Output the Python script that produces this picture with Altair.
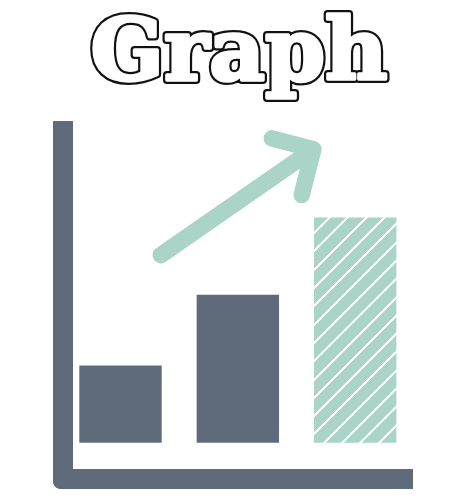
import numpy as np
import pandas as pd
import altair as alt

# bars of the icon: position index, height, fill style
bar_pos = [0, 1, 2]
bar_value = [2.4, 4.6, 7.0]
bar_kind = ["solid", "solid", "hatched"]

# trend arrow, in bar-index / value units
arrow_part = ["shaft", "shaft", "head", "head", "head"]
arrow_seq = [0, 1, 0, 1, 2]
arrow_x = [0.343, 1.643, 1.289, 1.643, 1.544]
arrow_y = [5.83, 9.12, 9.46, 9.12, 7.70]

title_text = ["Graph"]

SLATE = "#5f6b7a"
MINT = "#a9d4c7"

W, H = 446, 486
X_RANGE = [112.5, 347.2]   # pixels for bar index 0 and 2
Y_RANGE = [434.7, 113.0]   # pixels for value 0 and 10
HALF = 0.351               # half bar width, in index units

xs = alt.Scale(domain=[0, 2], range=X_RANGE, nice=False, zero=False)
ys = alt.Scale(domain=[0, 10], range=Y_RANGE, nice=False, zero=False)

# diagonal hatch built as a hard-stop linear gradient
px_x = (X_RANGE[1] - X_RANGE[0]) / 2
px_y = (Y_RANGE[0] - Y_RANGE[1]) / 10
bw = 2 * HALF * px_x
bh = bar_value[2] * px_y
k = (1 / bh + 1 / bw) / (1 / bh ** 2 + 1 / bw ** 2)
period, line_w, phase = 18.3, 3.0, 15.6
span = bw + bh

stops = [alt.GradientStop(offset=0, color=MINT)]
for c in np.arange(phase % period - period, span + period, period):
    a = (c - line_w / 2) / span
    b = (c + line_w / 2) / span
    if b <= 0 or a >= 1:
        continue
    a, b = float(round(max(a, 0), 5)), float(round(min(b, 1), 5))
    stops += [alt.GradientStop(offset=a, color=MINT),
              alt.GradientStop(offset=a, color="white"),
              alt.GradientStop(offset=b, color="white"),
              alt.GradientStop(offset=b, color=MINT)]
stops.append(alt.GradientStop(offset=1, color=MINT))
hatch = alt.LinearGradient(gradient="linear", stops=stops,
                           x1=0, y1=0, x2=float(k / bh), y2=float(k / bw))

df_bars = pd.DataFrame({"pos": bar_pos, "value": bar_value, "kind": bar_kind})
df_arrow = pd.DataFrame({"part": arrow_part, "seq": arrow_seq,
                         "x": arrow_x, "y": arrow_y})
one = pd.DataFrame({"a": [0]})

# L shaped axis frame
frame_y = alt.Chart(one).mark_rect(color=SLATE, cornerRadiusBottomLeft=8).encode(
    x=alt.value(45), x2=alt.value(65), y=alt.value(113), y2=alt.value(481))
frame_x = alt.Chart(one).mark_rect(color=SLATE, cornerRadiusBottomLeft=8).encode(
    x=alt.value(45), x2=alt.value(405), y=alt.value(461), y2=alt.value(481))

base = alt.Chart(df_bars).transform_calculate(
    x0=f"datum.pos - {HALF}", x1=f"datum.pos + {HALF}", base="0")
enc = dict(
    x=alt.X("x0:Q", scale=xs, axis=None), x2="x1:Q",
    y=alt.Y("value:Q", scale=ys, axis=None), y2="base:Q")
solid = base.transform_filter("datum.kind == 'solid'").mark_bar(color=SLATE).encode(**enc)
hatched = base.transform_filter("datum.kind == 'hatched'").mark_bar(color=hatch).encode(**enc)

arrow = alt.Chart(df_arrow).mark_line(
    color=MINT, strokeWidth=16.5, strokeCap="round", strokeJoin="round"
).encode(
    x=alt.X("x:Q", scale=xs, axis=None),
    y=alt.Y("y:Q", scale=ys, axis=None),
    detail="part:N", order="seq:Q")

# heavy outlined title: a fat black stroke under a white stroke
title_font = dict(font="DejaVu Serif", fontWeight="bold", fontSize=86,
                  align="center", baseline="alphabetic", strokeJoin="round")
title_df = pd.DataFrame({"t": title_text})
title_pos = dict(text="t:N", x=alt.value(231), y=alt.value(72))
title_back = alt.Chart(title_df).mark_text(
    fill="#111111", stroke="#111111", strokeWidth=8, **title_font
).encode(**title_pos)
title_front = alt.Chart(title_df).mark_text(
    fill="white", stroke="white", strokeWidth=3.5, **title_font
).encode(**title_pos)

chart = (frame_y + frame_x + solid + hatched + arrow + title_back + title_front).properties(
    width=W, height=H, padding=0, autosize="none", background="white"
).configure_view(stroke=None)

chart.save("out.html", embed_options={"renderer": "svg", "actions": False})
